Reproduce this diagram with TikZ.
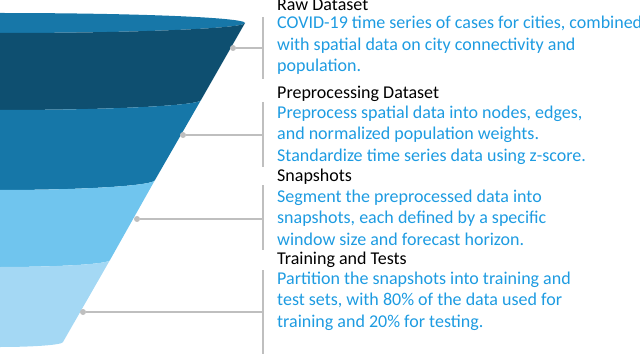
\documentclass[tikz,border=0pt]{standalone}
\usepackage{fontspec}
\setmainfont{Carlito}
\usetikzlibrary{positioning}

\definecolor{rimblue}{RGB}{23,119,168}
\definecolor{darkblue}{RGB}{14,79,112}
\definecolor{midblue}{RGB}{22,119,168}
\definecolor{skyblue}{RGB}{112,197,238}
\definecolor{paleblue}{RGB}{164,216,244}
\definecolor{textblue}{RGB}{29,155,225}
\definecolor{linegray}{RGB}{191,191,191}

\begin{document}
\begin{tikzpicture}[
    x=1pt, y=1pt,
    every node/.style={font=\fontsize{18}{21.5}\selectfont, inner sep=0pt},
    heading/.style={anchor=base west, black},
    desc/.style={anchor=base west, align=left, textblue},
    dot/.style={circle, fill=linegray, minimum size=6pt},
    bar/.style={linegray, line width=2pt},
    leader/.style={linegray, line width=1.5pt},
]
\useasboundingbox (0,0) rectangle (640,354);
\clip (0,0) rectangle (640,354);

% === Funnel (right half, axis on the left edge) ===
% inner rim
\fill[rimblue] (0,331) ellipse[x radius=245, y radius=10];
% band 1: raw
\fill[darkblue] (245,331) -- (201,254)
    arc[start angle=0, end angle=-180, x radius=201, y radius=10]
    -- (-245,331) arc[start angle=180, end angle=360, x radius=245, y radius=10] -- cycle;
% band 2: preprocessing
\fill[midblue] (201,254) -- (155,174)
    arc[start angle=0, end angle=-180, x radius=155, y radius=10]
    -- (-201,254) arc[start angle=180, end angle=360, x radius=201, y radius=10] -- cycle;
% band 3: snapshots
\fill[skyblue] (155,174) -- (110,94)
    arc[start angle=0, end angle=-180, x radius=110, y radius=7]
    -- (-155,174) arc[start angle=180, end angle=360, x radius=155, y radius=10] -- cycle;
% band 4: training
\fill[paleblue] (110,94) -- (63,12)
    arc[start angle=0, end angle=-180, x radius=63, y radius=5]
    -- (-110,94) arc[start angle=180, end angle=360, x radius=110, y radius=7] -- cycle;

% === Leaders and brackets ===
\node[dot] (d1) at (233,306) {};
\node[dot] (d2) at (183,219) {};
\node[dot] (d3) at (137,135) {};
\node[dot] (d4) at (83,42) {};
\coordinate (b1) at (263,306);
\coordinate (b2) at (263,219);
\coordinate (b3) at (263,135);
\coordinate (b4) at (263,42);
\draw[leader] (d1) -- (b1);
\draw[leader] (d2) -- (b2);
\draw[leader] (d3) -- (b3);
\draw[leader] (d4) -- (b4);
\draw[bar] (263,337) -- (263,275);
\draw[bar] (263,252) -- (263,187);
\draw[bar] (263,169) -- (263,104);
\draw[bar] (263,84) -- (263,0);

% === Stage texts (desc nodes sit on their last line) ===
\node[heading] (h1) at (277,343) {Raw Dataset};
\node[desc] (t1) at (277,282) {COVID-19 time series of cases for cities, combined\\
    with spatial data on city connectivity and\\population.};
\node[heading] (h2) at (277,255) {Preprocessing Dataset};
\node[desc] (t2) at (277,193) {Preprocess spatial data into nodes, edges,\\
    and normalized population weights.\\Standardize time series data using z-score.};
\node[heading] (h3) at (277,172) {Snapshots};
\node[desc] (t3) at (277,109) {Segment the preprocessed data into\\
    snapshots, each defined by a specific\\window size and forecast horizon.};
\node[heading] (h4) at (277,90) {Training and Tests};
\node[desc] (t4) at (277,27) {Partition the snapshots into training and\\
    test sets, with 80\% of the data used for\\training and 20\% for testing.};

\end{tikzpicture}
\end{document}
